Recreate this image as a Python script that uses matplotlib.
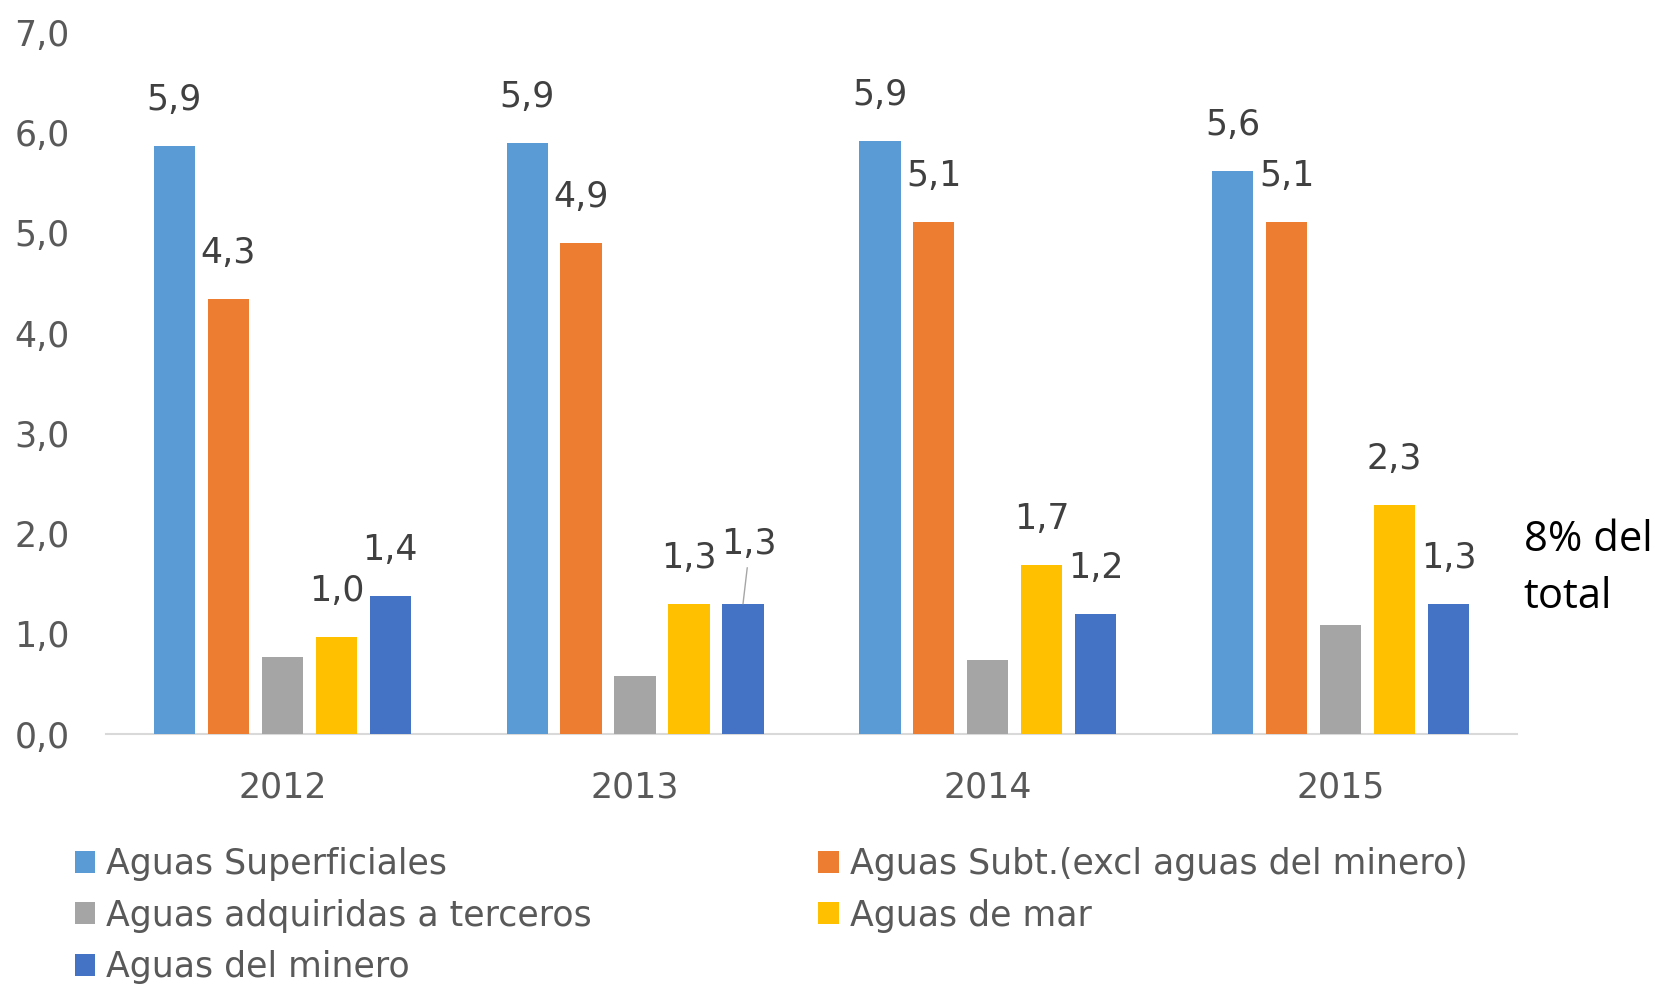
import numpy as np
import matplotlib
matplotlib.use("Agg")
import matplotlib.pyplot as plt

years = ["2012", "2013", "2014", "2015"]
series = [
    "Aguas Superficiales",
    "Aguas Subt.(excl aguas del minero)",
    "Aguas adquiridas a terceros",
    "Aguas de mar",
    "Aguas del minero",
]
superficiales = [5.87, 5.90, 5.92, 5.62]
subterraneas = [4.34, 4.90, 5.11, 5.11]
terceros = [0.77, 0.58, 0.74, 1.09]
mar = [0.97, 1.30, 1.69, 2.29]
minero = [1.38, 1.30, 1.20, 1.30]
note = "8% del\ntotal"

values = [superficiales, subterraneas, terceros, mar, minero]
colors = ["#5B9BD5", "#ED7D31", "#A5A5A5", "#FFC000", "#4472C4"]
show_labels = [True, True, False, True, True]

fig = plt.figure(figsize=(16.56, 9.84), dpi=100)
ax = fig.add_axes([0.064, 0.254, 0.852, 0.713])

x = np.arange(len(years))
width = 0.117
pitch = 0.153
bars = []
for i, (vals, c) in enumerate(zip(values, colors)):
    pos = x + (i - 2) * pitch
    b = ax.bar(pos, vals, width=width, color=c, label=series[i], zorder=3)
    bars.append(b)
    if not show_labels[i]:
        continue
    for j, v in enumerate(vals):
        dx, dy = 0, 33
        if i == 4 and j == 1:
            # label moved up with a leader line
            dx, dy = 4, 43
            ax.annotate("", xy=(pos[j], v), xytext=(pos[j] + 0.012, v + 0.36),
                        arrowprops=dict(arrowstyle="-", color="#A6A6A6", lw=1,
                                        shrinkA=0, shrinkB=0))
        ax.annotate(f"{v:.1f}".replace(".", ","), xy=(pos[j], v),
                    xytext=(dx, dy), textcoords="offset points",
                    ha="center", va="center", fontsize=25, color="#404040")

ax.set_xlim(-0.5, 3.5)
ax.set_ylim(0, 7)
ax.set_yticks(range(8))
ax.set_yticklabels([f"{t:.1f}".replace(".", ",") for t in range(8)])
ax.set_xticks(x)
ax.set_xticklabels(years)
ax.tick_params(axis="both", length=0, labelsize=25, labelcolor="#595959")
ax.tick_params(axis="y", pad=26)
ax.tick_params(axis="x", pad=26)
for s in ["top", "right", "left"]:
    ax.spines[s].set_visible(False)
ax.spines["bottom"].set_color("#D9D9D9")
ax.spines["bottom"].set_linewidth(1.5)

order = [0, 2, 4, 1, 3]
leg = fig.legend([bars[k] for k in order], [series[k] for k in order],
                 ncol=2, loc="upper left", bbox_to_anchor=(0.045, 0.139),
                 frameon=False, fontsize=25, handlelength=0.6, handleheight=0.6,
                 handletextpad=0.32, labelspacing=0.5, columnspacing=6.5,
                 borderaxespad=0, borderpad=0)
for t in leg.get_texts():
    t.set_color("#595959")

fig.text(0.920, 0.422, note, fontsize=30, family="Open Sans", color="black",
         ha="left", va="center", linespacing=1.48)

fig.savefig("out.png", dpi=100)
